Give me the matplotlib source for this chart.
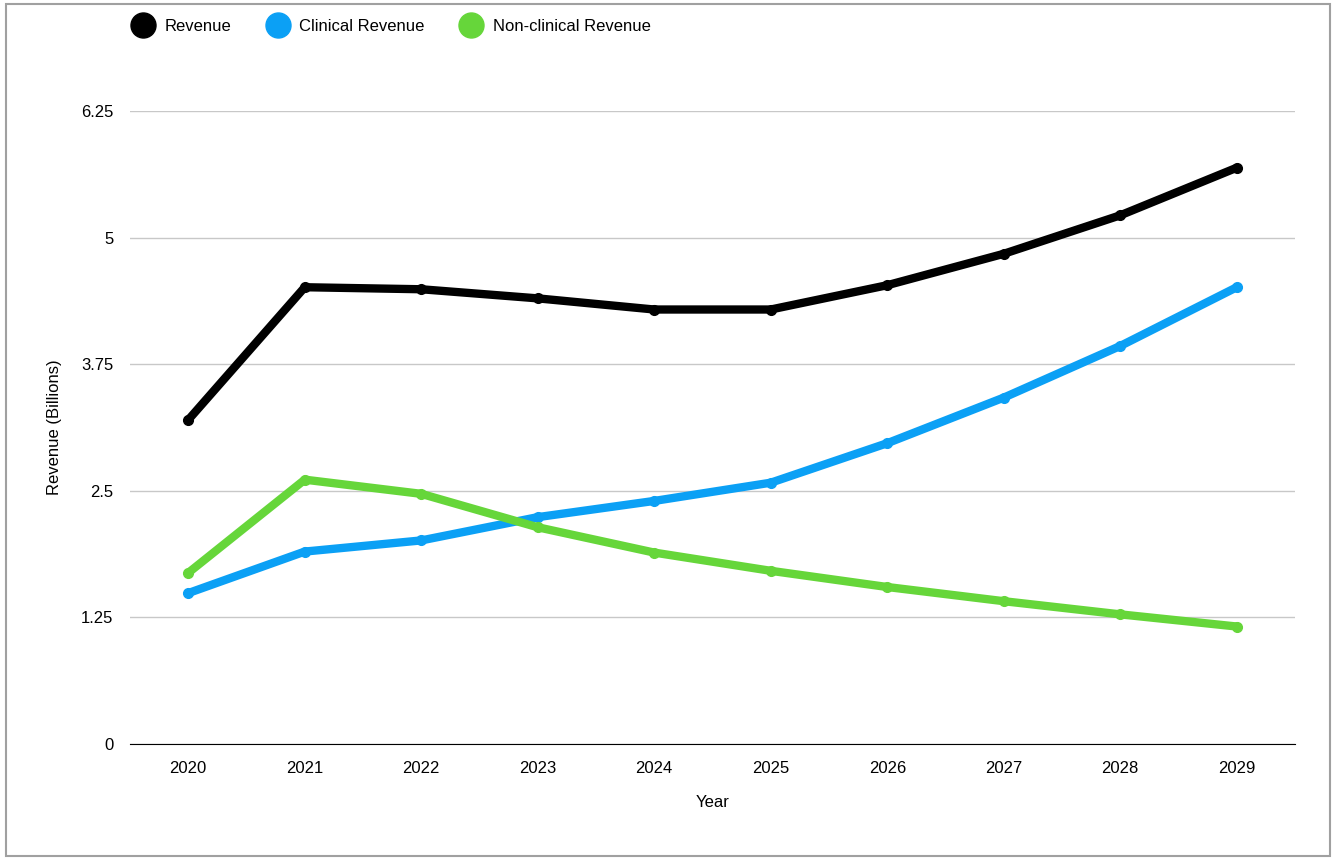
import matplotlib
matplotlib.use("Agg")
import matplotlib.pyplot as plt
from matplotlib.patches import Rectangle

years = [2020, 2021, 2022, 2023, 2024, 2025, 2026, 2027, 2028, 2029]
revenue = [3.20, 4.51, 4.49, 4.40, 4.29, 4.29, 4.53, 4.84, 5.22, 5.69]
clinical = [1.49, 1.90, 2.01, 2.24, 2.40, 2.58, 2.97, 3.42, 3.93, 4.51]
nonclinical = [1.69, 2.61, 2.47, 2.14, 1.89, 1.71, 1.55, 1.41, 1.28, 1.16]
yticks = [0, 1.25, 2.5, 3.75, 5, 6.25]
ytick_labels = ["0", "1.25", "2.5", "3.75", "5", "6.25"]

plt.rcParams['font.family'] = ['Liberation Sans', 'DejaVu Sans']
fig = plt.figure(figsize=(13.36, 8.6), dpi=100)
fig.patches.append(Rectangle((0.0045, 0.005), 0.991, 0.99, transform=fig.transFigure,
                             fill=False, edgecolor='#a0a0a0', linewidth=1.5))
ax = fig.add_axes([130/1336, 1-744/860, (1295-130)/1336, (744-111)/860])
x = list(range(len(years)))
series = [(revenue, '#000000', 'Revenue'), (clinical, '#0ba0f5', 'Clinical Revenue'),
          (nonclinical, '#66d63a', 'Non-clinical Revenue')]
for vals, c, lab in series:
    ax.plot(x, vals, color=c, lw=6, marker='o', ms=7, label=lab, solid_capstyle='round')
ax.set_xlim(-0.5, 9.5)
ax.set_ylim(0, 6.25)
ax.set_xticks(x)
ax.set_xticklabels([str(y) for y in years], fontsize=12)
ax.set_yticks(yticks)
ax.set_yticklabels(ytick_labels, fontsize=12)
ax.yaxis.grid(True, color='#c8c8c8', lw=1)
ax.set_axisbelow(True)
for s in ['top', 'right', 'left']:
    ax.spines[s].set_visible(False)
ax.spines['bottom'].set_color('#000000')
ax.tick_params(length=0, pad=12)
ax.set_xlabel("Year", fontsize=12, labelpad=14)
ax.set_ylabel("Revenue (Billions)", fontsize=12, labelpad=14)
ax.set_clip_on(False)
handles = [plt.Line2D([], [], color=c, marker='o', ms=18, lw=0) for _, c, _ in series]
fig.legend(handles, [l for _, _, l in series], loc='upper left', bbox_to_anchor=(0.083, 0.995),
           ncol=3, frameon=False, fontsize=12, handletextpad=0.3, columnspacing=1.8)
fig.savefig("out.png", dpi=100)
